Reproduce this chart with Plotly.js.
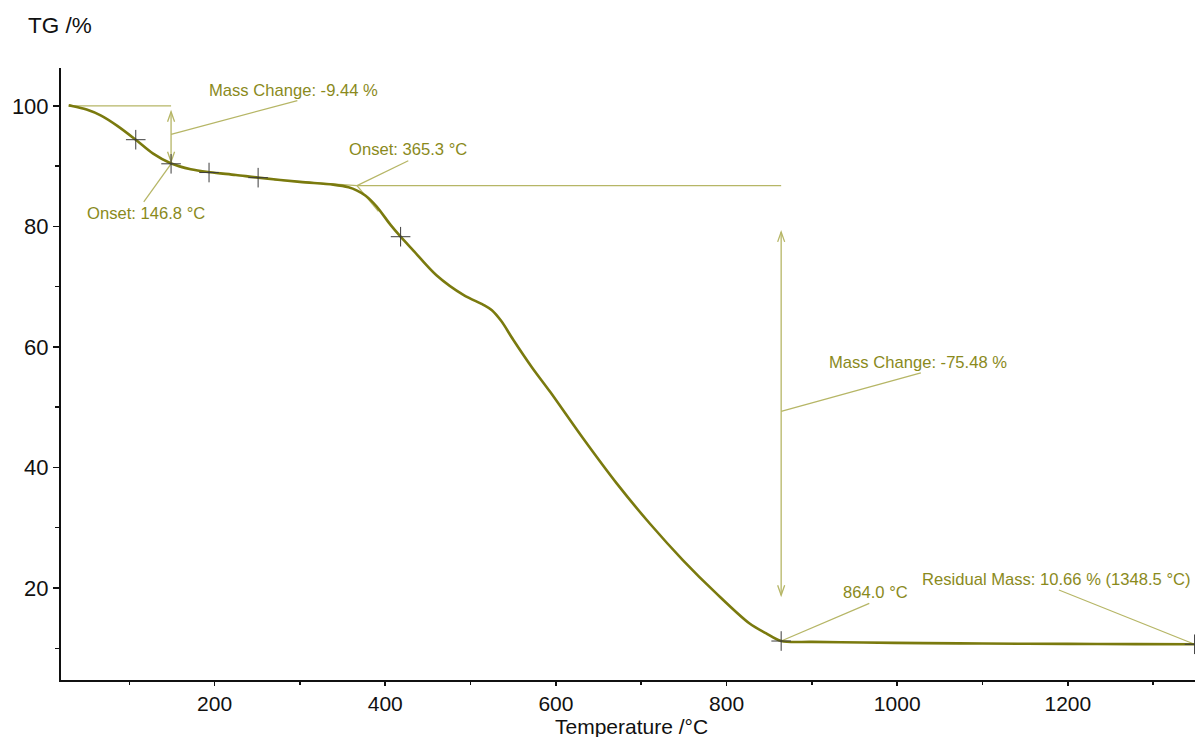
<!DOCTYPE html>
<html>
<head>
<meta charset="utf-8">
<script src="https://cdn.plot.ly/plotly-3.0.1.min.js"></script>
<style>html,body{margin:0;padding:0;background:#fff;}#chart{width:1195px;height:737px;}</style>
</head>
<body>
<div id="chart"></div>
<script>
// ---- TG curve (temperature in °C, mass in %) ----
const temperatureC = [29, 33, 50, 67, 86, 107.6, 128, 148.5, 172, 195, 225, 251, 300, 339, 357, 367, 377, 390, 406, 418, 433, 460, 492, 515, 525, 536, 550, 572, 593, 632, 671, 710, 749, 788, 827, 846, 864, 900, 960, 1030, 1100, 1200, 1280, 1348.5];
const tgPercent    = [100.1, 100.0, 99.4, 98.4, 96.7, 94.4, 92.1, 90.5, 89.5, 89.0, 88.55, 88.1, 87.4, 86.95, 86.5, 85.95, 85.1, 83.3, 80.3, 78.3, 76.0, 71.9, 68.6, 67.0, 66.1, 64.3, 61.2, 56.6, 52.6, 44.8, 37.4, 30.7, 24.6, 19.1, 14.1, 12.5, 11.2, 11.05, 10.95, 10.85, 10.78, 10.72, 10.68, 10.66];

// ---- evaluation markers (+) ----
const markerT  = [107.6, 149, 193.5, 251, 418, 864, 1348.5];
const markerTG = [94.4, 90.4, 88.95, 88.1, 78.3, 11.2, 10.66];

// ---- evaluation results ----
const step1 = {T: 149, top: 100, arrowTop: 99.05, arrowBottom: 90.75, start: 29};
const onset2 = {T: 366.9, TG: 86.77, baseStartT: 270, baseStartTG: 87.74, steepEndT: 392, steepEndTG: 82.5, lineEndT: 864};
const step2 = {T: 864, arrowTop: 79.1, arrowBottom: 18.8};

// ---- annotation labels ----
const labelTexts = ["Mass Change: -9.44 %", "Onset: 146.8 °C", "Onset: 365.3 °C", "Mass Change: -75.48 %", "864.0 °C", "Residual Mass: 10.66 % (1348.5 °C)"];
const labelT     = [292.4, 119.3, 427, 1024.6, 974.3, 1187.1];
const labelTG    = [102.5, 82.2, 92.7, 57.5, 19.2, 21.4];
// leader line endpoints (from, to)
const leaderFromT  = [149, 149, 366.9, 864, 864, 1189.5];
const leaderFromTG = [95.3, 90.4, 86.77, 49.3, 11.2, 19.67];
const leaderToT    = [297, 117, 427, 1027.7, 967.3, 1348.5];
const leaderToTG   = [100.9, 84.1, 90.9, 55.7, 17.46, 10.66];

// ---- axis ticks ----
const xTickVals = [200, 400, 600, 800, 1000, 1200];
const yTickVals = [20, 40, 60, 80, 100];

const curveColor = '#7a7a0e';
const textColor = '#8a8a1c';
const guideColor = '#b6b666';
const fontFam = 'Liberation Sans, Arial, sans-serif';

const traces = [
  {x: temperatureC, y: tgPercent, type: 'scatter', mode: 'lines',
   line: {color: curveColor, width: 2.6, shape: 'spline', smoothing: 0.9}, hoverinfo: 'skip'},
  {x: markerT, y: markerTG, type: 'scatter', mode: 'markers', cliponaxis: false,
   marker: {symbol: 'cross-thin', size: 14, line: {color: '#3c3c3c', width: 1}}, hoverinfo: 'skip'}
];

const shapes = [];
function seg(x0, y0, x1, y1) {
  shapes.push({type: 'line', xref: 'x', yref: 'y', x0: x0, y0: y0, x1: x1, y1: y1,
    line: {color: guideColor, width: 1.3}, layer: 'below'});
}
function head(x, y, up) {
  const p = up ? 'M-3.5,-10 L0,0 L3.5,-10' : 'M-3.5,10 L0,0 L3.5,10';
  shapes.push({type: 'path', xref: 'x', yref: 'y', xsizemode: 'pixel', ysizemode: 'pixel',
    xanchor: x, yanchor: y, path: p, line: {color: guideColor, width: 1.3}, layer: 'below'});
}
// step 1
seg(step1.start, step1.top, step1.T, step1.top);
seg(step1.T, step1.arrowTop, step1.T, step1.arrowBottom);
head(step1.T, step1.arrowTop, true);
head(step1.T, step1.arrowBottom, false);
// onset 2 construction
seg(onset2.baseStartT, onset2.baseStartTG, onset2.T, onset2.TG);
seg(onset2.T, onset2.TG, onset2.steepEndT, onset2.steepEndTG);
seg(onset2.T, onset2.TG, onset2.lineEndT, onset2.TG);
// step 2
seg(step2.T, step2.arrowTop, step2.T, step2.arrowBottom);
head(step2.T, step2.arrowTop, true);
head(step2.T, step2.arrowBottom, false);
// leaders
for (let i = 0; i < leaderFromT.length; i++) seg(leaderFromT[i], leaderFromTG[i], leaderToT[i], leaderToTG[i]);

const annotations = labelTexts.map((t, i) => ({
  text: t, x: labelT[i], y: labelTG[i], xref: 'x', yref: 'y', showarrow: false,
  xanchor: 'center', yanchor: 'middle', font: {family: fontFam, size: 16.6, color: textColor}
}));
annotations.push({text: 'TG /%', xref: 'paper', yref: 'paper', x: 0, y: 1, xshift: -1, yshift: 43,
  xanchor: 'center', yanchor: 'middle', showarrow: false, font: {family: fontFam, size: 22.5, color: '#111'}});
annotations.push({text: 'Temperature /°C', xref: 'paper', yref: 'paper', x: 0.5, y: 0, xshift: 3, yshift: -46,
  xanchor: 'center', yanchor: 'middle', showarrow: false, font: {family: fontFam, size: 21, color: '#111'}});

const layout = {
  width: 1195, height: 737,
  margin: {l: 61, r: 0, t: 68, b: 57},
  paper_bgcolor: '#fff', plot_bgcolor: '#fff',
  showlegend: false,
  font: {family: fontFam, color: '#111'},
  xaxis: {range: [20, 1349], showgrid: false, zeroline: false, showline: true,
    linecolor: '#111', linewidth: 2.2, ticks: 'outside', ticklen: 4, tickwidth: 1.5, tickcolor: '#111',
    tickvals: xTickVals, ticktext: xTickVals.map(String), tickfont: {size: 21, color: '#111'},
    minor: {dtick: 100, tick0: 0, ticks: 'outside', ticklen: 3, tickwidth: 1.5, tickcolor: '#111', showgrid: false}},
  yaxis: {range: [4.73, 106.3], showgrid: false, zeroline: false, showline: true,
    linecolor: '#111', linewidth: 2, ticks: 'outside', ticklen: 6, tickwidth: 1.5, tickcolor: '#111',
    tickvals: yTickVals, ticktext: yTickVals.map(String), tickfont: {size: 22, color: '#111'},
    minor: {dtick: 10, tick0: 0, ticks: 'outside', ticklen: 4, tickwidth: 1.5, tickcolor: '#111', showgrid: false}},
  shapes: shapes,
  annotations: annotations
};

Plotly.newPlot('chart', traces, layout, {staticPlot: true, displayModeBar: false});
</script>
</body>
</html>
